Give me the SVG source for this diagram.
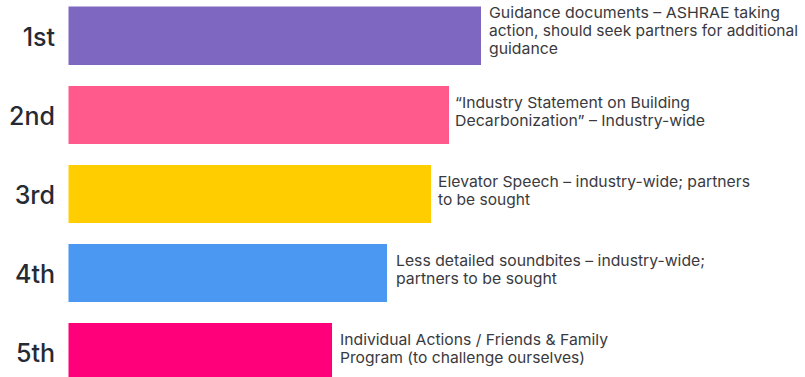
<svg xmlns="http://www.w3.org/2000/svg" width="805" height="377" viewBox="0 0 805 377">
<style>
.rank{font-family:Inter,"Noto Sans","Liberation Sans",sans-serif;font-size:25px;font-weight:500;fill:#262a33;text-anchor:end}
.desc{font-family:Inter,"Noto Sans","Liberation Sans",sans-serif;font-size:15px;fill:#3a3a3e}
</style>
<rect width="805" height="377" fill="#ffffff"/>
<g id="row1">
<rect x="68.5" y="6.5" width="412.5" height="58.5" fill="#7e67c1"/>
<text class="rank" x="55" y="46">1st</text>
<text class="desc" x="489" y="17.5" textLength="291" lengthAdjust="spacingAndGlyphs">Guidance documents – ASHRAE taking</text>
<text class="desc" x="489" y="35.5" textLength="309" lengthAdjust="spacingAndGlyphs">action, should seek partners for additional</text>
<text class="desc" x="489" y="53.5" textLength="69" lengthAdjust="spacingAndGlyphs">guidance</text>
</g>
<g id="row2">
<rect x="68.5" y="86" width="380.5" height="58" fill="#ff5a8b"/>
<text class="rank" x="55" y="125">2nd</text>
<text class="desc" x="455" y="108" textLength="235" lengthAdjust="spacingAndGlyphs">“Industry Statement on Building</text>
<text class="desc" x="455" y="126" textLength="250" lengthAdjust="spacingAndGlyphs">Decarbonization” – Industry-wide</text>
</g>
<g id="row3">
<rect x="68.5" y="165" width="362.5" height="58" fill="#ffcd00"/>
<text class="rank" x="55" y="204">3rd</text>
<text class="desc" x="438" y="187" textLength="312" lengthAdjust="spacingAndGlyphs">Elevator Speech – industry-wide; partners</text>
<text class="desc" x="438" y="205" textLength="92" lengthAdjust="spacingAndGlyphs">to be sought</text>
</g>
<g id="row4">
<rect x="68.5" y="244" width="318.5" height="58" fill="#4a98f1"/>
<text class="rank" x="55" y="283">4th</text>
<text class="desc" x="396" y="266" textLength="309" lengthAdjust="spacingAndGlyphs">Less detailed soundbites – industry-wide;</text>
<text class="desc" x="396" y="284" textLength="161" lengthAdjust="spacingAndGlyphs">partners to be sought</text>
</g>
<g id="row5">
<rect x="68.5" y="323" width="263.5" height="58" fill="#ff007a"/>
<text class="rank" x="55" y="362">5th</text>
<text class="desc" x="340" y="345" textLength="268" lengthAdjust="spacingAndGlyphs">Individual Actions / Friends &amp; Family</text>
<text class="desc" x="340" y="363" textLength="245" lengthAdjust="spacingAndGlyphs">Program (to challenge ourselves)</text>
</g>
<g id="connectors"/>
</svg>
